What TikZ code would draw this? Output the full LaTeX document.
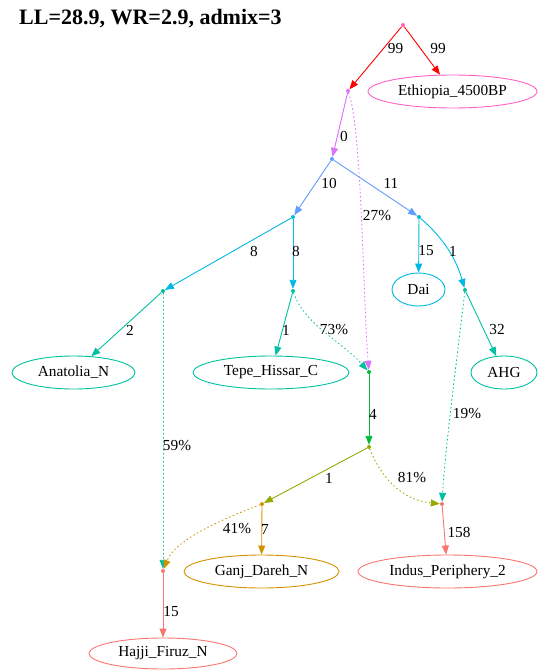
\documentclass[tikz,border=0pt]{standalone}
\usepackage{fontspec}
\setmainfont{Liberation Serif}
\usetikzlibrary{arrows.meta,shapes.geometric}

\definecolor{cRoot}{HTML}{FF61C3}
\definecolor{cViolet}{HTML}{DB72FB}
\definecolor{cBlue}{HTML}{619CFF}
\definecolor{cCyan}{HTML}{00B9E3}
\definecolor{cTeal}{HTML}{00C19F}
\definecolor{cGreen}{HTML}{00BA38}
\definecolor{cOlive}{HTML}{93AA00}
\definecolor{cGold}{HTML}{D39200}
\definecolor{cSalmon}{HTML}{F8766D}
\definecolor{cRed}{HTML}{FF0000}

\tikzset{
  x=1pt, y=-1pt,
  every node/.style={font=\fontsize{15.3}{18}\selectfont},
  dot/.style={circle, fill=#1, draw=none, minimum size=4pt, inner sep=0pt},
  pop/.style={ellipse, draw=#1, line width=0.9pt, inner sep=0pt, minimum height=33pt},
  edge/.style={draw=#1, line width=0.9pt, -{Triangle[length=9pt,width=7pt,fill=#1]}},
  admix/.style={edge=#1, dash pattern=on 1pt off 3pt, line cap=round},
  lbl/.style={inner sep=0pt, anchor=center},
}

\begin{document}
\begin{tikzpicture}
\useasboundingbox (0,0) rectangle (539,670);

% title
\node[anchor=base west, inner sep=0pt, font=\fontsize{22}{26}\selectfont\bfseries] (title) at (19,24.5) {LL=28.9, WR=2.9, admix=3};

% internal vertices
\node[dot=cRoot]   (r) at (403,25)  {};
\node[dot=cViolet] (a) at (348,91)  {};
\node[dot=cBlue]   (b) at (332,159) {};
\node[dot=cCyan]   (c) at (293,217) {};
\node[dot=cCyan]   (d) at (419,217) {};
\node[dot=cTeal]   (e) at (163,291) {};
\node[dot=cTeal]   (f) at (293,291) {};
\node[dot=cTeal]   (h) at (465,290) {};
\node[dot=cGreen]  (g) at (369,372) {};
\node[dot=cOlive]  (i) at (369,447) {};
\node[dot=cGold]   (j) at (262,504) {};
\node[dot=cSalmon] (k) at (442,504) {};
\node[dot=cSalmon] (l) at (163,571) {};

% populations
\node[pop=cRoot,   minimum width=169pt] (eth)   at (452.5,91.5)  {Ethiopia\_4500BP};
\node[pop=cTeal,   minimum width=123pt] (anat)  at (73.5,372.5)  {Anatolia\_N};
\node[pop=cTeal,   minimum width=156pt] (tepe)  at (271,372.5)   {Tepe\_Hissar\_C};
\node[pop=cCyan,   minimum width=53pt]  (dai)   at (418.5,289.5) {Dai};
\node[pop=cTeal,   minimum width=66pt]  (ahg)   at (504,372.5)   {AHG};
\node[pop=cGold,   minimum width=155pt] (ganj)  at (261.5,571.5) {Ganj\_Dareh\_N};
\node[pop=cSalmon, minimum width=179pt] (indus) at (447.5,571.5) {Indus\_Periphery\_2};
\node[pop=cSalmon, minimum width=148pt, minimum height=31pt] (hajji) at (163,653.5) {Hajji\_Firuz\_N};

% drift edges
\draw[edge=cRed]    (r) -- (a);
\draw[edge=cRed]    (r) -- (eth);
\draw[edge=cViolet] (a) -- (b);
\draw[edge=cBlue]   (b) -- (c);
\draw[edge=cBlue]   (b) -- (d);
\draw[edge=cCyan]   (c) -- (e);
\draw[edge=cCyan]   (c) -- (f);
\draw[edge=cCyan]   (d) -- (dai);
\draw[edge=cCyan]   (d) .. controls (440,235) and (455,255) .. (h);
\draw[edge=cTeal]   (e) -- (anat);
\draw[edge=cTeal]   (f) -- (tepe);
\draw[edge=cTeal]   (h) -- (ahg);
\draw[edge=cGreen]  (g) -- (i);
\draw[edge=cOlive]  (i) -- (j);
\draw[edge=cGold]   (j) -- (ganj);
\draw[edge=cSalmon] (k) -- (indus);
\draw[edge=cSalmon] (l) -- (hajji);

% admixture edges
\draw[admix=cViolet] (a) .. controls (362,130) and (363,300) .. (g);
\draw[admix=cTeal]   (f) .. controls (305,325) and (340,340) .. (g);
\draw[admix=cTeal]   (e) -- (l);
\draw[admix=cTeal]   (h) .. controls (458,350) and (445,450) .. (k);
\draw[admix=cOlive]  (i) .. controls (380,475) and (400,500) .. (k);
\draw[admix=cGold]   (j) .. controls (220,520) and (175,540) .. (l);

% edge labels
\node[lbl] (l1)  at (395.5,49) {99};
\node[lbl] (l2)  at (438,49)   {99};
\node[lbl] (l3)  at (344,136)  {0};
\node[lbl] (l4)  at (377,216)  {27\%};
\node[lbl] (l5)  at (329,183)  {10};
\node[lbl] (l6)  at (391,183)  {11};
\node[lbl] (l7)  at (254,251)  {8};
\node[lbl] (l8)  at (296,251)  {8};
\node[lbl] (l9)  at (426,251)  {15};
\node[lbl] (l10) at (453,251)  {1};
\node[lbl] (l11) at (130,330)  {2};
\node[lbl] (l12) at (286,330)  {1};
\node[lbl] (l13) at (334,330)  {73\%};
\node[lbl] (l14) at (497,330)  {32};
\node[lbl] (l15) at (373,414)  {4};
\node[lbl] (l16) at (467,414)  {19\%};
\node[lbl] (l17) at (177,446)  {59\%};
\node[lbl] (l18) at (329,478)  {1};
\node[lbl] (l19) at (412,478)  {81\%};
\node[lbl] (l20) at (237,529)  {41\%};
\node[lbl] (l21) at (265,529)  {7};
\node[lbl] (l22) at (459,532)  {158};
\node[lbl] (l23) at (171,612)  {15};
\end{tikzpicture}
\end{document}
